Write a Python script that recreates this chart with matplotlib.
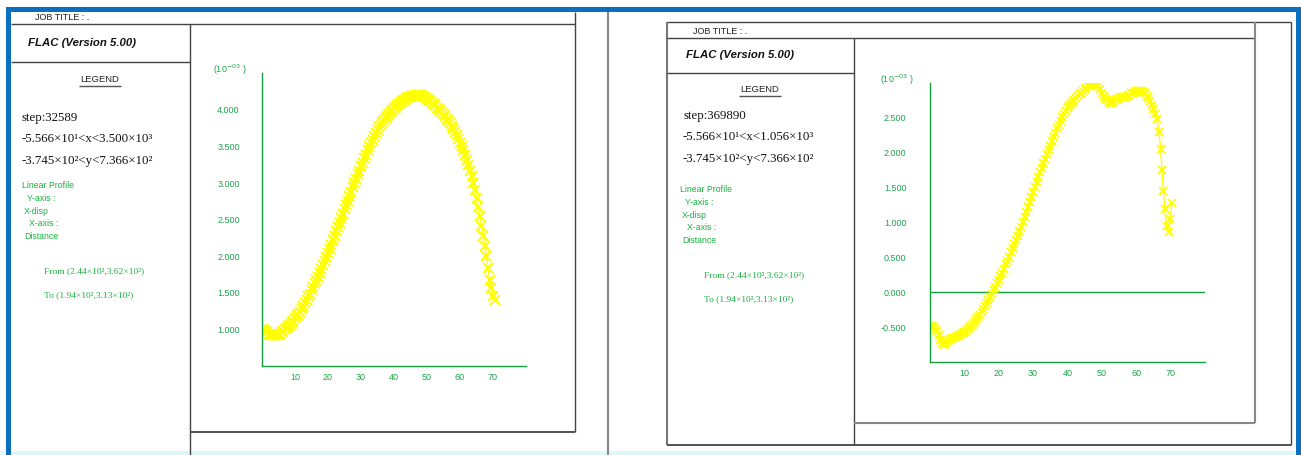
import numpy as np
import matplotlib
matplotlib.use('Agg')
import matplotlib.pyplot as plt

# --- data (X-disp, units of 1e-3) ---
dist_a = np.arange(0, 71, 0.5)
disp_a = [1.00, 0.99, 0.98, 0.96, 0.94, 0.93, 0.92, 0.92, 0.92, 0.92,
          0.93, 0.94, 0.96, 0.98, 1.00, 1.02, 1.04, 1.06, 1.09, 1.12,
          1.15, 1.18, 1.21, 1.24, 1.28, 1.32, 1.36, 1.40, 1.45, 1.49,
          1.54, 1.58, 1.63, 1.67, 1.72, 1.77, 1.83, 1.88, 1.94, 1.99,
          2.05, 2.10, 2.16, 2.22, 2.28, 2.34, 2.40, 2.46, 2.52, 2.58,
          2.64, 2.70, 2.76, 2.82, 2.88, 2.94, 3.00, 3.06, 3.12, 3.17,
          3.23, 3.28, 3.34, 3.39, 3.45, 3.50, 3.55, 3.59, 3.64, 3.68,
          3.72, 3.76, 3.79, 3.83, 3.86, 3.89, 3.92, 3.95, 3.97, 4.00,
          4.02, 4.04, 4.06, 4.08, 4.10, 4.12, 4.13, 4.15, 4.16, 4.17,
          4.18, 4.19, 4.19, 4.20, 4.20, 4.20, 4.20, 4.19, 4.18, 4.17,
          4.15, 4.14, 4.12, 4.10, 4.08, 4.06, 4.03, 4.01, 3.98, 3.96,
          3.93, 3.91, 3.88, 3.85, 3.82, 3.78, 3.74, 3.70, 3.65, 3.60,
          3.55, 3.50, 3.45, 3.39, 3.32, 3.25, 3.17, 3.09, 3.00, 2.90,
          2.79, 2.67, 2.55, 2.42, 2.28, 2.14, 2.00, 1.84, 1.68, 1.56,
          1.45, 1.40]

dist_b = list(np.arange(0, 66.5, 0.5)) + [66.6, 67.1, 67.5, 67.9, 68.3, 68.8, 69.4, 69.9, 70.3]
disp_b = [-0.49, -0.49, -0.50, -0.52, -0.56, -0.62, -0.68, -0.73, -0.75, -0.73,
          -0.71, -0.69, -0.67, -0.66, -0.65, -0.64, -0.63, -0.62, -0.60, -0.59,
          -0.57, -0.55, -0.53, -0.51, -0.48, -0.45, -0.42, -0.39, -0.36, -0.32,
          -0.28, -0.24, -0.20, -0.16, -0.11, -0.07, -0.02, 0.03, 0.08, 0.13,
          0.18, 0.23, 0.28, 0.34, 0.40, 0.45, 0.51, 0.57, 0.63, 0.69,
          0.75, 0.81, 0.88, 0.94, 1.01, 1.08, 1.15, 1.22, 1.30, 1.37,
          1.44, 1.51, 1.58, 1.65, 1.72, 1.78, 1.85, 1.91, 1.98, 2.04,
          2.10, 2.17, 2.23, 2.29, 2.35, 2.40, 2.46, 2.51, 2.56, 2.60,
          2.64, 2.67, 2.70, 2.73, 2.76, 2.79, 2.81, 2.84, 2.86, 2.89,
          2.91, 2.93, 2.95, 2.96, 2.97, 2.98, 2.98, 2.97, 2.95, 2.91,
          2.85, 2.81, 2.77, 2.75, 2.73, 2.72, 2.72, 2.73, 2.75, 2.77,
          2.79, 2.80, 2.80, 2.80, 2.80, 2.81, 2.83, 2.85, 2.86, 2.87,
          2.88, 2.89, 2.89, 2.88, 2.87, 2.85, 2.82, 2.78, 2.74, 2.69,
          2.63, 2.56, 2.48,
          2.30, 2.05, 1.75, 1.45, 1.20, 0.95, 0.86, 1.05, 1.28]

x_ticks = [10, 20, 30, 40, 50, 60, 70]
y_ticks_a = [1.0, 1.5, 2.0, 2.5, 3.0, 3.5, 4.0]
y_ticks_b = [-0.5, 0.0, 0.5, 1.0, 1.5, 2.0, 2.5]

steps = ['step:32589', 'step:369890']
x_ranges = ['-5.566×10¹<x<3.500×10³', '-5.566×10¹<x<1.056×10³']
y_range = '-3.745×10²<y<7.366×10²'

W, H = 1301, 455
GREEN = '#1aa64a'
AXGREEN = '#12a040'
LGREEN = '#19b23f'
YELLOW = '#ffff00'
BLUE = '#0a6fbd'

fig = plt.figure(figsize=(W / 100, H / 100), dpi=100)
bg = fig.add_axes([0, 0, 1, 1])
bg.set_xlim(0, W)
bg.set_ylim(H, 0)
bg.axis('off')


def line(x0, y0, x1, y1, c='#444444', lw=1.0):
    bg.plot([x0, x1], [y0, y1], color=c, lw=lw, solid_capstyle='butt')


# blue window frame
bg.add_patch(plt.Rectangle((0, 451), W, 4, color='#dcf8fb', lw=0))
bg.add_patch(plt.Rectangle((6, 7), W - 6, 5, color=BLUE, lw=0))
bg.add_patch(plt.Rectangle((6, 7), 5, H - 7, color=BLUE, lw=0))
bg.add_patch(plt.Rectangle((1296, 7), 5, H - 7, color=BLUE, lw=0))

# left page frame
line(11, 24, 575, 24)
line(11, 62, 190, 62)
line(190, 24, 190, 455)
line(575, 12, 575, 432)
line(190, 432, 575, 432, lw=1.3)
line(608, 12, 608, 455, c='#888888', lw=1.5)

# right page frame
line(667, 22, 1291, 22)
line(667, 22, 667, 445, c='#777777', lw=1.5)
line(1291, 22, 1291, 445)
line(667, 445, 1291, 445, lw=1.3)
line(667, 38, 1255, 38)
line(667, 73, 854, 73)
line(854, 38, 854, 445)
line(1255, 22, 1255, 423, c='#888888', lw=1.5)
line(854, 423, 1255, 423, c='#888888', lw=1.5)

# legend text blocks
panels = [
    dict(job=(35, 17), flac=(28, 43), leg=(100, 80), step=(22, 118),
         green=(22, 186), frm=(44, 271)),
    dict(job=(693, 31), flac=(686, 55), leg=(760, 90), step=(683, 116),
         green=(680, 190), frm=(704, 275)),
]
for i, p in enumerate(panels):
    bg.text(*p['job'], 'JOB TITLE : .', fontsize=6.5, family='Liberation Sans',
            va='center', color='#222222')
    bg.text(*p['flac'], 'FLAC (Version 5.00)', fontsize=8.2, family='Liberation Sans',
            weight='bold', style='italic', va='center', color='#111111')
    lx, ly = p['leg']
    bg.text(lx, ly, 'LEGEND', fontsize=6.8, family='Liberation Sans', ha='center',
            va='center', color='#222222')
    line(lx - 21, ly + 6, lx + 21, ly + 6, c='#555555', lw=1.0)
    sx, sy = p['step']
    for j, s in enumerate([steps[i], x_ranges[i], y_range]):
        bg.text(sx, sy + j * 21.5, s, fontsize=9.3, family='Liberation Serif',
                va='center', color='#111111')
    gx, gy = p['green']
    glines = [('Linear Profile', 0), ('Y-axis :', 5), ('X-disp', 2), ('X-axis :', 7),
              ('Distance', 2)]
    for j, (s, dx) in enumerate(glines):
        bg.text(gx + dx, gy + j * 12.6, s, fontsize=6.3, family='Liberation Sans',
                va='center', color=LGREEN)
    fx, fy = p['frm']
    bg.text(fx, fy, 'From (2.44×10²,3.62×10²)', fontsize=6.8, family='Liberation Serif',
            va='center', color=LGREEN)
    bg.text(fx, fy + 24, 'To (1.94×10²,3.13×10²)', fontsize=6.8, family='Liberation Serif',
            va='center', color=LGREEN)


def make_axes(px0, px1, py_top, py_bot):
    return fig.add_axes([px0 / W, 1 - py_bot / H, (px1 - px0) / W, (py_bot - py_top) / H])


def style(ax, yticks, ylim, pad_y):
    ax.set_facecolor('none')
    ax.set_xlim(0, 80)
    ax.set_ylim(*ylim)
    for s in ['top', 'right']:
        ax.spines[s].set_visible(False)
    for s in ['left', 'bottom']:
        ax.spines[s].set_color(AXGREEN)
        ax.spines[s].set_linewidth(1.0)
    ax.set_xticks(x_ticks)
    ax.set_xticklabels([str(t) for t in x_ticks])
    ax.set_yticks(yticks)
    ax.set_yticklabels(['%.3f' % t for t in yticks])
    ax.tick_params(axis='both', length=0, labelsize=6.5, labelcolor=GREEN)
    ax.tick_params(axis='y', pad=pad_y)
    ax.tick_params(axis='x', pad=5)
    for lab in ax.get_xticklabels() + ax.get_yticklabels():
        lab.set_family('Liberation Sans')


ax1 = make_axes(262, 526, 73.3, 366)
style(ax1, y_ticks_a, (0.5, 4.5), 16)
ax1.plot(dist_a, disp_a, color=YELLOW, lw=1.0, marker='x', ms=6.5, mew=1.5)
bg.text(213, 70, '(10$^{-03}$ )', fontsize=6.5, family='Liberation Sans', color=GREEN,
        va='center')

ax2 = make_axes(930, 1205, 83, 362)
style(ax2, y_ticks_b, (-1.0, 3.0), 17)
ax2.axhline(0, color=AXGREEN, lw=1.0)
ax2.plot(dist_b, disp_b, color=YELLOW, lw=1.0, marker='x', ms=6, mew=1.4)
bg.text(880, 80, '(10$^{-03}$ )', fontsize=6.5, family='Liberation Sans', color=GREEN,
        va='center')

fig.savefig('out.png', dpi=100)
